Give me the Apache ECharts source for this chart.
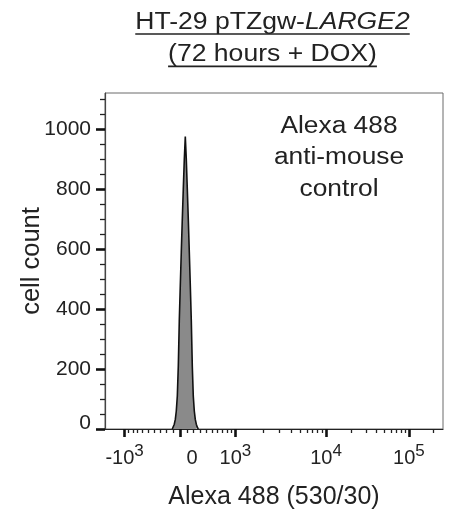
<!DOCTYPE html>
<html><head><meta charset="utf-8">
<script src="https://cdn.jsdelivr.net/npm/echarts@6/dist/echarts.min.js"></script>
<style>html,body{margin:0;padding:0;background:#fff}#c{width:452px;height:515px}</style>
</head><body><div id="c"></div>
<script>
// ---------- texts ----------
const titleLine1Plain = 'HT-29 pTZgw-';
const titleLine1Italic = 'LARGE2';
const titleLine2 = '(72 hours + DOX)';
const annotationLines = ['Alexa 488', 'anti-mouse', 'control'];
const xAxisName = 'Alexa 488 (530/30)';
const yAxisName = 'cell count';

// ---------- histogram (x in logicle display channels, 0..1000 = full scale) ----------
const channel = [257.3, 260.1, 262.8, 265.6, 268.3, 271.1, 273.8, 276.5, 279.3, 282.0, 284.8, 287.5, 290.3,
                 293.0, 295.7, 298.5, 301.2, 304.0, 306.7, 309.5, 312.2, 314.9, 317.7, 320.4, 323.2, 325.9, 328.7];
const counts  = [0, 6, 16, 32, 60, 110, 210, 360, 480, 590, 700, 800, 900,
                 975, 900, 800, 700, 590, 480, 360, 210, 110, 60, 32, 16, 6, 0];

// ---------- axis ticks ----------
const xMajorValues = [-1000, 0, 1000, 10000, 100000];
const xMajorBase   = ['-10', '0', '10', '10', '10'];
const xMajorExp    = ['3', '', '3', '4', '5'];
const xMinorValues = [-900, -800, -700, -600, -500, -400, -300, -200, -100,
                      100, 200, 300, 400, 500, 600, 700, 800, 900,
                      2000, 3000, 4000, 5000, 6000, 7000, 8000, 9000,
                      20000, 30000, 40000, 50000, 60000, 70000, 80000, 90000, 200000];
const yMajorValues = [0, 200, 400, 600, 800, 1000];
const yMinorValues = [50, 100, 150, 250, 300, 350, 450, 500, 550, 650, 700, 750, 850, 900, 950, 1050, 1100];
const yMax = 1120;

// ---------- logicle transform (FlowJo-like biexponential) ----------
const T_TOP = 262144, M_DEC = 3.817, W_LIN = 0.57, A_NEG = 0.683;
const X_MIN_CH = 72.7, X_MAX_CH = 1000;
function makeLogicle(T, W, M, A) {
  const w = W / (M + A), x2 = A / (M + A), x1 = x2 + w, x0 = x2 + 2 * w;
  const b = (M + A) * Math.LN10;
  const fd = d => 2 * (Math.log(d) - Math.log(b)) + w * (b + d);
  let lo = 1e-12, hi = b;
  for (let i = 0; i < 200; i++) { const m = (lo + hi) / 2; if (fd(m) > 0) hi = m; else lo = m; }
  const d = (lo + hi) / 2;
  const ca = Math.exp(x0 * (b + d));
  const fa = Math.exp(b * x1) - ca / Math.exp(d * x1);
  const a = T / ((Math.exp(b) - fa) - ca / Math.exp(d));
  const c = ca * a, f = -fa * a;
  const Sp = x => a * Math.exp(b * x) - c * Math.exp(-d * x) + f;
  const S = x => x >= x1 ? Sp(x) : -Sp(2 * x1 - x);
  return v => { let l = -2, h = 2; for (let i = 0; i < 200; i++) { const m = (l + h) / 2; if (S(m) < v) l = m; else h = m; } return (l + h) / 2 * 1000; };
}
const toChannel = makeLogicle(T_TOP, W_LIN, M_DEC, A_NEG);
const xMajorCh = xMajorValues.map(toChannel);
const xMinorCh = xMinorValues.map(toChannel).filter(c => c >= X_MIN_CH && c <= X_MAX_CH);

const FONT = "'Liberation Sans', Arial, Helvetica, sans-serif";
const TXT = '#222';
const BIG = 23.5, STRETCH = 1.13;

function measure(text, size, style) {
  const ctx = document.createElement('canvas').getContext('2d');
  ctx.font = (style || 'normal') + ' ' + size + 'px ' + FONT;
  return ctx.measureText(text).width;
}
const TITLE_X = 272.5;
const w1 = (measure(titleLine1Plain, BIG) + measure(titleLine1Italic, BIG, 'italic')) * STRETCH;
const w2 = measure(titleLine2, BIG) * STRETCH;

const chart = echarts.init(document.getElementById('c'), null, { renderer: 'canvas' });
chart.setOption({
  animation: false,
  backgroundColor: '#fff',
  grid: { left: 105, right: 9, top: 93, bottom: 84, show: true, borderColor: '#6a6a6a', borderWidth: 1 },
  xAxis: [
    {
      type: 'value', min: X_MIN_CH, max: X_MAX_CH, position: 'bottom',
      name: xAxisName, nameLocation: 'middle', nameGap: 56, nameMoveOverlap: false,
      nameTextStyle: { fontSize: 25, color: TXT, fontFamily: FONT },
      axisLine: { show: true, lineStyle: { color: '#222', width: 1.2 } },
      axisTick: { show: true, customValues: xMajorCh, length: 8, lineStyle: { color: '#111', width: 2.6 } },
      axisLabel: {
        customValues: xMajorCh, margin: 14, color: TXT, fontFamily: FONT,
        formatter: v => {
          let idx = 0, best = Infinity;
          xMajorCh.forEach((c, i) => { if (Math.abs(c - v) < best) { best = Math.abs(c - v); idx = i; } });
          if (!xMajorExp[idx]) return '{z|' + xMajorBase[idx] + '}';
          return '{b|' + xMajorBase[idx] + '}{s|' + xMajorExp[idx] + '}';
        },
        rich: {
          b: { fontSize: 20, lineHeight: 30, fontFamily: FONT, color: TXT },
          s: { fontSize: 17, lineHeight: 16, verticalAlign: 'top', fontFamily: FONT, color: TXT },
          z: { fontSize: 20, lineHeight: 30, fontFamily: FONT, color: TXT, padding: [0, 0, 0, 24] }
        }
      },
      splitLine: { show: false }
    },
    {
      type: 'value', min: X_MIN_CH, max: X_MAX_CH, position: 'bottom',
      axisLine: { show: false },
      axisTick: { show: true, customValues: xMinorCh, length: 4, lineStyle: { color: '#222', width: 1.3 } },
      axisLabel: { show: false }, splitLine: { show: false }
    }
  ],
  yAxis: [
    {
      type: 'value', min: 0, max: yMax, position: 'left',
      name: yAxisName, nameLocation: 'middle', nameGap: 60, nameMoveOverlap: false,
      nameTextStyle: { fontSize: 25.5, color: TXT, fontFamily: FONT },
      axisLine: { show: true, lineStyle: { color: '#444', width: 1.2 } },
      axisTick: { show: true, customValues: yMajorValues, length: 9, lineStyle: { color: '#111', width: 2.6 } },
      axisLabel: {
        customValues: yMajorValues, margin: 14, fontSize: 21, color: TXT, fontFamily: FONT,
        formatter: v => v === 0 ? '{z|0}' : String(v),
        rich: { z: { fontSize: 21, fontFamily: FONT, color: TXT, padding: [0, 0, 12, 0] } }
      },
      splitLine: { show: false }
    },
    {
      type: 'value', min: 0, max: yMax, position: 'left',
      axisLine: { show: false },
      axisTick: { show: true, customValues: yMinorValues, length: 5, lineStyle: { color: '#222', width: 1.3 } },
      axisLabel: { show: false }, splitLine: { show: false }
    }
  ],
  series: [{
    type: 'line', xAxisIndex: 0, yAxisIndex: 0, symbol: 'none',
    data: channel.map((x, i) => [x, counts[i]]),
    lineStyle: { color: '#111', width: 1.6 },
    areaStyle: { color: '#8a8a8a', opacity: 1 },
    z: 3
  }],
  graphic: [
    {
      type: 'text', x: TITLE_X, y: 22.5, scaleX: STRETCH,
      style: {
        text: '{n|' + titleLine1Plain + '}{i|' + titleLine1Italic + '}',
        align: 'center', verticalAlign: 'middle',
        rich: {
          n: { fontSize: BIG, fontFamily: FONT, fill: TXT },
          i: { fontSize: BIG, fontFamily: FONT, fontStyle: 'italic', fill: TXT }
        }
      }
    },
    { type: 'line', shape: { x1: TITLE_X - w1 / 2, y1: 34, x2: TITLE_X + w1 / 2, y2: 34 }, style: { stroke: TXT, lineWidth: 1.7 } },
    {
      type: 'text', x: TITLE_X, y: 54.1, scaleX: STRETCH,
      style: { text: titleLine2, align: 'center', verticalAlign: 'middle', fontSize: BIG, fontFamily: FONT, fill: TXT }
    },
    { type: 'line', shape: { x1: TITLE_X - w2 / 2, y1: 66.3, x2: TITLE_X + w2 / 2, y2: 66.3 }, style: { stroke: TXT, lineWidth: 1.7 } },
    {
      type: 'text', x: 339, y: 157.8, scaleX: 1.12,
      style: {
        text: annotationLines.join('\n'), align: 'center', verticalAlign: 'middle',
        fontSize: BIG, lineHeight: 31.25, fontFamily: FONT, fill: TXT
      }
    }
  ]
});
</script></body></html>
